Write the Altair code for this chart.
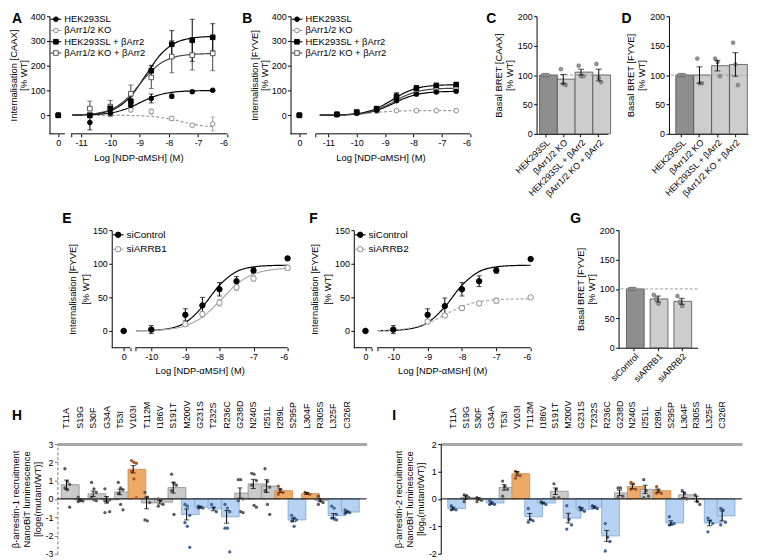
import altair as alt
import pandas as pd

FONT = "Liberation Sans"

# ===== Panels A and B: NDP-aMSH concentration-response (first value of each series = 0 M) =====
dose_AB = [-10.7, -10.0, -9.3, -8.6, -7.9, -7.2, -6.5]
names_AB = ["HEK293SL", "βArr1/2 KO", "HEK293SL + βArr2", "βArr1/2 KO + βArr2"]

A_hek = [0, -29, 8, 40, 68, 77, 95, 101]
A_hek_err = [0, 30, 10, 12, 18, 8, 5, 4]
A_ko = [0, 8, 5, 22, 15, -13, -40, -35]
A_ko_err = [0, 10, 10, 8, 10, 8, 6, 28]
A_hekb = [0, 0, 28, 57, 180, 287, 303, 315]
A_hekb_err = [0, 10, 15, 20, 22, 55, 85, 55]
A_kob = [0, 27, 35, 87, 153, 237, 243, 250]
A_kob_err = [0, 30, 25, 35, 45, 65, 60, 70]

B_hek = [0, 3, 8, 20, 59, 86, 94, 97]
B_hek_err = [0, 2, 3, 4, 6, 8, 6, 6]
B_ko = [0, 2, 8, 16, 19, 19, 19, 19]
B_ko_err = [0, 2, 2, 2, 2, 2, 2, 2]
B_hekb = [0, 4, 13, 27, 77, 110, 120, 124]
B_hekb_err = [0, 3, 4, 6, 14, 10, 10, 8]
B_kob = [0, 3, 10, 22, 65, 93, 106, 110]
B_kob_err = [0, 2, 3, 5, 10, 9, 8, 7]

# fitted curves
fit_x_AB = [-11.3, -10.8, -10.3, -9.8, -9.3, -8.8, -8.3, -7.8, -7.3, -6.8, -6.5]
A_hek_fit = [0.5, 1.6, 4.8, 13.7, 33.4, 61.3, 83.4, 94.0, 98.0, 99.4, 99.7]
A_ko_fit = [0, 0, -0.1, -0.3, -1.0, -3.0, -8.3, -19.0, -33.0, -43.0, -46.0]
A_hekb_fit = [1.0, 3.2, 9.8, 29.0, 77.0, 160.0, 243.0, 291.0, 310.0, 316.8, 318.4]
A_kob_fit = [1.2, 3.9, 12.0, 34.0, 83.5, 153.0, 208.5, 235.0, 245.0, 248.4, 249.2]
B_hek_fit = [0.24, 0.77, 2.4, 7.0, 19.4, 43.0, 69.3, 86.0, 93.3, 95.8, 96.4]
B_ko_fit = [0.3, 0.9, 2.6, 6.3, 11.6, 15.8, 18.0, 18.6, 18.9, 19.0, 19.0]
B_hekb_fit = [0.35, 1.1, 3.4, 10.2, 27.3, 58.5, 91.5, 111.5, 119.7, 122.6, 123.3]
B_kob_fit = [0.28, 0.87, 2.7, 8.0, 22.0, 48.8, 78.6, 97.6, 105.8, 108.6, 109.3]

# ===== Panels C, D, G: basal BRET =====
bars_CD = ["HEK293SL", "βArr1/2 KO", "HEK293SL + βArr2", "βArr1/2 KO + βArr2"]
C_mean = [100, 93, 105, 100]
C_sem = [0, 8, 5, 10]
C_pts = [[100, 100, 100], [110, 85, 83], [116, 98, 98], [119, 95, 88]]
D_mean = [100, 100, 116, 118]
D_sem = [0, 14, 9, 20]
D_pts = [[100, 100, 100], [128, 86, 86], [128, 122, 98], [155, 118, 83]]
bars_G = ["siControl", "siARRB1", "siARRB2"]
G_mean = [100, 83, 79]
G_sem = [0, 5, 5]
G_pts = [[100, 100, 100], [90, 83, 75], [88, 78, 71]]

# ===== Panels E and F: siRNA knock-down (first value = 0 M) =====
dose_EF = [-10.0, -9.0, -8.5, -8.0, -7.5, -7.0, -6.0]
E_ctrl = [0, 2, 24, 38, 62, 74, 90, 108]
E_ctrl_err = [0, 6, 9, 12, 10, 7, 4, 2]
E_b1 = [0, 2, 10, 25, 42, 65, 78, 94]
E_b1_err = [0, 3, 2, 4, 5, 5, 4, 4]
F_ctrl = [0, 2, 24, 37, 62, 74, 90, 107]
F_ctrl_err = [0, 6, 9, 12, 10, 8, 4, 2]
F_b2 = [0, 2, 14, 23, 34, 41, 45, 50]
F_b2_err = [0, 3, 3, 3, 3, 3, 4, 2]

fit_x_EF = [-10.45, -10.0, -9.5, -9.0, -8.5, -8.0, -7.5, -7.0, -6.5, -6.0]
E_ctrl_fit = [0.26, 0.9, 3.4, 12.4, 35.8, 68.0, 88.3, 95.3, 97.3, 97.8]
E_b1_fit = [0.3, 0.83, 2.6, 7.7, 20.7, 44.0, 69.4, 84.5, 90.8, 92.9]
F_ctrl_fit = [0.26, 0.9, 3.4, 12.4, 35.8, 68.0, 88.3, 95.3, 97.3, 97.8]
F_b2_fit = [0.54, 1.47, 4.4, 11.5, 24.0, 36.5, 43.6, 46.5, 47.5, 47.8]

# ===== Panels H and I: beta-arrestin recruitment by MC4R variants =====
mutants = ["T11A", "S19G", "S30F", "G34A", "T53I", "V103I", "T112M", "I186V", "S191T",
           "M200V", "G231S", "T232S", "R236C", "G238D", "N240S", "I251L", "I289L",
           "S295P", "L304F", "R305S", "L325F", "C326R"]
H_group = ["n", "n", "n", "n", "n", "gain", "n", "n", "n", "loss", "loss", "loss", "loss",
           "n", "n", "n", "gain", "loss", "gain", "n", "loss", "loss"]
H_mean = [0.78, -0.05, 0.28, -0.05, 0.38, 1.62, -0.22, -0.18, 0.62, -0.85, -0.45, -0.55,
          -0.98, 0.32, 0.82, 0.70, 0.45, -1.15, 0.30, -0.08, -0.92, -0.72]
H_sem = [0.25, 0.05, 0.15, 0.18, 0.15, 0.20, 0.32, 0.10, 0.30, 0.30, 0.05, 0.10, 0.35,
         0.28, 0.25, 0.35, 0.10, 0.10, 0.05, 0.08, 0.12, 0.05]
H_pts = [[1.65, 0.95, 0.8, 0.6, 0.5, -0.45], [0.1, -0.1, -0.12, -0.15],
         [0.9, 0.55, 0.35, 0.1, -0.05, -0.1], [0.55, 0.0, -0.05, -0.1, -0.15, -0.7, -0.75],
         [0.9, 0.6, 0.5, 0.3, -0.3, -0.6], [2.1, 2.0, 1.95, 1.5, 1.1, 0.05],
         [0.35, 0.1, -0.2, -1.15, -1.2], [0.0, -0.1, -0.3, -0.4],
         [1.35, 0.85, 0.75, 0.45, -0.85], [-0.3, -0.4, -0.9, -1.3, -1.5, -2.65],
         [-0.4, -0.45, -0.5, -0.5], [-0.3, -0.5, -0.7],
         [-0.3, -0.5, -0.7, -1.6, -1.6, -2.9], [1.05, 1.05, 0.0, -0.1, -0.7, -0.75],
         [1.4, 1.35, 1.0, 0.75, -0.35, -0.45], [1.65, 0.95, 0.65, 0.45, -0.3, -0.85],
         [0.7, 0.5, 0.35, 0.25], [-0.9, -1.05, -1.15, -1.2, -1.5], [0.35, 0.3, 0.25],
         [0.15, -0.1, -0.2, -0.3], [-0.4, -0.5, -0.85, -1.05, -1.1, -1.15],
         [-0.6, -0.7, -0.75, -0.8]]
I_group = ["loss", "n", "n", "loss", "n", "gain", "loss", "loss", "n", "loss", "loss", "loss",
           "loss", "n", "gain", "n", "gain", "loss", "n", "n", "loss", "loss"]
I_mean = [-0.35, 0.05, 0.0, -0.15, 0.42, 0.92, -0.65, -0.15, 0.28, -0.70, -0.38, -0.30,
          -1.35, 0.22, 0.45, 0.35, 0.30, -0.88, 0.15, 0.0, -0.88, -0.62]
I_sem = [0.05, 0.06, 0.04, 0.04, 0.10, 0.08, 0.12, 0.03, 0.12, 0.18, 0.05, 0.04, 0.20,
         0.10, 0.08, 0.15, 0.06, 0.08, 0.10, 0.10, 0.10, 0.18]
I_pts = [[-0.25, -0.35, -0.4, -0.4], [0.15, 0.12, 0.05, -0.1], [0.05, 0.0, -0.05, -0.1],
         [-0.05, -0.15, -0.2, -0.2], [0.65, 0.45, 0.35, 0.1], [1.0, 0.95, 0.85, 0.75],
         [-0.35, -0.75, -0.8, -0.85], [-0.1, -0.15, -0.2], [0.55, 0.35, 0.05, 0.05],
         [-0.25, -0.75, -0.95, -1.1], [-0.3, -0.35, -0.45], [-0.25, -0.3, -0.35],
         [-0.9, -1.4, -1.55, -1.9], [0.4, 0.4, 0.1, 0.05], [0.6, 0.55, 0.35, 0.35],
         [0.7, 0.3, 0.1, 0.05], [0.45, 0.3, 0.2, 0.2], [-0.65, -0.9, -0.9, -0.95],
         [0.3, 0.2, 0.0], [0.15, -0.1, -0.2], [-0.7, -0.8, -0.9, -1.2],
         [-0.35, -0.4, -0.85, -0.95]]

LABEL_FS = 9
TITLE_FS = 9.5
CH = ["fill", "stroke", "shape", "color", "strokeDash"]


def indep(c):
    kw = {k: "independent" for k in CH}
    return c.resolve_scale(**kw).resolve_legend(**kw)


def letter_layer(letter, lx, ly, base="alphabetic"):
    return alt.Chart(pd.DataFrame({"t": [letter]})).mark_text(
        font=FONT, fontSize=14, fontWeight="bold", align="left", baseline=base,
        color="black").encode(text="t:N", x=alt.value(lx), y=alt.value(ly))


def legend_layers(series, y0, dy, fs, psize):
    """Prism-style key: short line through the marker, then the label."""
    out = []
    for i, s in enumerate(series):
        yy = y0 + i * dy
        one = pd.DataFrame({"t": [s["name"]]})
        out.append(alt.Chart(one).mark_rule(color=s["line"], strokeWidth=1.1).encode(
            x=alt.value(1), x2=alt.value(12), y=alt.value(yy)))
        out.append(alt.Chart(one).mark_point(filled=True, opacity=1, size=psize, shape=s["shape"],
                                             fill=s["fill"], stroke=s["stroke"], strokeWidth=1).encode(
            x=alt.value(6.5), y=alt.value(yy)))
        out.append(alt.Chart(one).mark_text(font=FONT, fontSize=fs, align="left", baseline="middle",
                                            color="black").encode(
            text="t:N", x=alt.value(15), y=alt.value(yy)))
    return out


def dose_panel(letter, lpos, geom, series, fit_x, ytitle, yticks, xticks, leg, title_lh, psize):
    xmin, zero, seg1, seg2, xmax, ymin, ymax, W, Hh, brk = geom
    xs = alt.Scale(domain=[xmin, xmax], nice=False, zero=False)
    ys = alt.Scale(domain=[ymin, ymax], nice=False, zero=False)
    lbl = ("abs(datum.value - (%s)) < 0.001 ? '0' : "
           "(datum.value == round(datum.value) ? '' + datum.value : '')" % zero)
    xax = alt.Axis(values=[zero] + brk + xticks, labelExpr=lbl, domain=False,
                   title="Log [NDP-αMSH] (M)", tickSize=3, labelPadding=1.5, titlePadding=5)
    yax = alt.Axis(values=yticks, title=ytitle, tickSize=3, labelPadding=1.5, titlePadding=2,
                   labelExpr="'' + datum.value", titleLineHeight=title_lh)

    def X(f):
        return alt.X(f, type="quantitative", scale=xs, axis=xax)

    def Y(f):
        return alt.Y(f, type="quantitative", scale=ys, axis=yax)

    names = [s["name"] for s in series]
    rows, crows = [], []
    for s in series:
        for i, v in enumerate(s["vals"]):
            x = zero if i == 0 else s["dose"][i - 1]
            e = s["err"][i]
            rows.append(dict(x=x, y=v, lo=v - e, hi=v + e, e=e, series=s["name"], o=s["order"]))
        for cx, cy in zip(fit_x, s["fit"]):
            crows.append(dict(cx=cx, cy=cy, series=s["name"]))
    df = pd.DataFrame(rows).sort_values("o", kind="stable")
    edf = df[df["e"] > 0]
    cdf = pd.DataFrame(crows)

    ccol = alt.Color("series:N", scale=alt.Scale(domain=names, range=[s["line"] for s in series]),
                     legend=None)
    err = alt.Chart(edf).mark_rule(strokeWidth=1).encode(
        x=X("x"), y=Y("lo"), y2=alt.Y2("hi"), color=ccol)
    caps = alt.Chart(edf).transform_fold(["lo", "hi"], as_=["k", "v"]).mark_tick(
        orient="horizontal", size=5, thickness=1).encode(x=X("x"), y=Y("v"), color=ccol)
    curves = alt.Chart(cdf).mark_line(interpolate="monotone", strokeWidth=1.2).encode(
        x=X("cx"), y=Y("cy"), color=ccol,
        strokeDash=alt.StrokeDash("series:N", scale=alt.Scale(
            domain=names, range=[s["dash"] for s in series]), legend=None))
    pts = alt.Chart(df).mark_point(filled=True, opacity=1, size=psize, strokeWidth=1).encode(
        x=X("x"), y=Y("y"),
        shape=alt.Shape("series:N", scale=alt.Scale(domain=names, range=[s["shape"] for s in series]),
                        legend=None),
        fill=alt.Fill("series:N", scale=alt.Scale(domain=names, range=[s["fill"] for s in series]),
                      legend=None),
        stroke=alt.Stroke("series:N", scale=alt.Scale(domain=names, range=[s["stroke"] for s in series]),
                          legend=None))
    segdf = pd.DataFrame({"a": [xmin, seg2], "b": [seg1, xmax]})
    segs = alt.Chart(segdf).mark_rule(color="black", strokeWidth=1).encode(
        x=X("a"), x2=alt.X2("b"), y=alt.YDatum(ymin, type="quantitative", scale=ys, axis=yax))
    keys = legend_layers(series, leg[0], leg[1], leg[2], psize)
    return alt.layer(err, caps, curves, pts, segs, *keys, letter_layer(letter, *lpos)).properties(
        width=W, height=Hh)


def bar_panel(letter, lpos, labels, means, sems, pts, ytitle, W, Hh, pi, po):
    xs = alt.Scale(domain=labels, paddingInner=pi, paddingOuter=po)
    ys = alt.Scale(domain=[0, 200], nice=False)
    xax = alt.Axis(title=None, labelAngle=-45, labelAlign="right", labelBaseline="top",
                   tickSize=3, labelPadding=1)
    yax = alt.Axis(values=[0, 50, 100, 150, 200], title=ytitle, tickSize=3, labelPadding=1.5,
                   titlePadding=3, titleLineHeight=11)

    def X(f):
        return alt.X(f, type="nominal", scale=xs, axis=xax, sort=labels)

    def Y(f):
        return alt.Y(f, type="quantitative", scale=ys, axis=yax)

    df = pd.DataFrame({"cat": labels, "m": means,
                       "lo": [m - s for m, s in zip(means, sems)],
                       "hi": [m + s for m, s in zip(means, sems)],
                       "s": sems,
                       "shade": ["ctrl"] + ["other"] * (len(labels) - 1)})
    edf = df[df["s"] > 0]
    prow = []
    for c, vals in zip(labels, pts):
        for k, v in enumerate(vals):
            prow.append(dict(cat=c, v=v, j=k - (len(vals) - 1) / 2))
    pdf = pd.DataFrame(prow)

    bars = alt.Chart(df).mark_bar(stroke="#4d4d4d", strokeWidth=0.8).encode(
        x=X("cat"), y=Y("m"),
        fill=alt.Fill("shade:N", scale=alt.Scale(domain=["ctrl", "other"],
                                                 range=["#8e8e8e", "#cdcdcd"]), legend=None))
    ref = alt.Chart(pd.DataFrame({"r": [0]})).mark_rule(
        color="#9a9a9a", strokeDash=[3, 2], strokeWidth=1).encode(
        y=alt.YDatum(100, type="quantitative", scale=ys, axis=yax))
    dots = alt.Chart(pdf).mark_point(filled=True, size=14, opacity=1, fill="#9a9a9a",
                                     stroke="#555555", strokeWidth=0.6).encode(
        x=X("cat"), y=Y("v"),
        xOffset=alt.XOffset("j:Q", scale=alt.Scale(domain=[-1.7, 1.7])))
    err = alt.Chart(edf).mark_rule(color="black", strokeWidth=1).encode(
        x=X("cat"), y=Y("lo"), y2=alt.Y2("hi"))
    caps = alt.Chart(edf).transform_fold(["lo", "hi"], as_=["k", "v"]).mark_tick(
        orient="horizontal", size=6, thickness=1, color="black").encode(x=X("cat"), y=Y("v"))
    return alt.layer(bars, ref, dots, err, caps, letter_layer(letter, *lpos)).properties(
        width=W, height=Hh)


def mut_panel(letter, lpos, groups, means, sems, pts, ymin, ymax, yticks, ytitle, W, Hh, po,
              align, dashed):
    xs = alt.Scale(domain=mutants, paddingInner=0.22, paddingOuter=po, align=align)
    ys = alt.Scale(domain=[ymin, ymax], nice=False)
    xax = alt.Axis(orient="top", title=None, labelAngle=-90, labelAlign="left",
                   labelBaseline="middle", ticks=False, labelPadding=16, domainWidth=3,
                   domainColor="#a8a8a8", labelFontSize=9)
    if dashed:
        yax = alt.Axis(values=yticks, title=ytitle, tickSize=3, labelPadding=1.5, titlePadding=3,
                       labelExpr="'' + datum.value", titleLineHeight=11, domainDash=[3, 2],
                       domainColor="#777777", tickColor="#777777")
    else:
        yax = alt.Axis(values=yticks, title=ytitle, tickSize=3, labelPadding=1.5, titlePadding=3,
                       labelExpr="'' + datum.value", titleLineHeight=11)

    def X(f):
        return alt.X(f, type="nominal", scale=xs, axis=xax, sort=mutants)

    def Y(f):
        return alt.Y(f, type="quantitative", scale=ys, axis=yax)

    df = pd.DataFrame({"cat": mutants, "m": means, "g": groups,
                       "lo": [m - s for m, s in zip(means, sems)],
                       "hi": [m + s for m, s in zip(means, sems)]})
    prow = []
    for c, g, vals in zip(mutants, groups, pts):
        for k, v in enumerate(vals):
            prow.append(dict(cat=c, v=v, g=g, j=(k % 3) - 1))
    pdf = pd.DataFrame(prow)
    gdom = ["n", "gain", "loss"]
    bars = alt.Chart(df).mark_bar(strokeWidth=0.8).encode(
        x=X("cat"), y=Y("m"), y2=alt.Y2Datum(0),
        fill=alt.Fill("g:N", scale=alt.Scale(domain=gdom, range=["#cacaca", "#eeaa68", "#b5d2f2"]),
                      legend=None),
        stroke=alt.Stroke("g:N", scale=alt.Scale(domain=gdom, range=["#8c8c8c", "#c98a4e", "#7ea5d3"]),
                          legend=None))
    zero = alt.Chart(pd.DataFrame({"r": [0]})).mark_rule(color="black", strokeWidth=1).encode(
        y=alt.YDatum(0, type="quantitative", scale=ys, axis=yax))
    dots = alt.Chart(pdf).mark_circle(size=11, opacity=1).encode(
        x=X("cat"), y=Y("v"),
        xOffset=alt.XOffset("j:Q", scale=alt.Scale(domain=[-2.5, 2.5])),
        color=alt.Color("g:N", scale=alt.Scale(domain=gdom, range=["#595959", "#a5582a", "#3e6597"]),
                        legend=None))
    err = alt.Chart(df).mark_rule(color="black", strokeWidth=1).encode(
        x=X("cat"), y=Y("lo"), y2=alt.Y2("hi"))
    caps = alt.Chart(df).transform_fold(["lo", "hi"], as_=["k", "v"]).mark_tick(
        orient="horizontal", size=5, thickness=1, color="black").encode(x=X("cat"), y=Y("v"))
    return alt.layer(bars, zero, dots, err, caps, letter_layer(letter, *lpos)).properties(
        width=W, height=Hh)


def spacer(w, h):
    return alt.Chart(pd.DataFrame({"v": [0]})).mark_point(opacity=0).encode(
        x=alt.value(0), y=alt.value(0)).properties(width=w, height=h)


def ser(name, vals, err, fit, dose, shape, fill, stroke, line, dash, order):
    return dict(name=name, vals=vals, err=err, fit=fit, dose=dose, shape=shape, fill=fill,
                stroke=stroke, line=line, dash=dash, order=order)


SOLID = [1, 0]
DASH = [3, 2]

A_series = [
    ser(names_AB[0], A_hek, A_hek_err, A_hek_fit, dose_AB, "circle", "black", "black", "black", SOLID, 2),
    ser(names_AB[1], A_ko, A_ko_err, A_ko_fit, dose_AB, "circle", "white", "#8c8c8c", "#9a9a9a", DASH, 1),
    ser(names_AB[2], A_hekb, A_hekb_err, A_hekb_fit, dose_AB, "square", "black", "black", "black", SOLID, 3),
    ser(names_AB[3], A_kob, A_kob_err, A_kob_fit, dose_AB, "square", "white", "#555555", "#444444", SOLID, 0),
]
B_series = [
    ser(names_AB[0], B_hek, B_hek_err, B_hek_fit, dose_AB, "circle", "black", "black", "black", SOLID, 2),
    ser(names_AB[1], B_ko, B_ko_err, B_ko_fit, dose_AB, "circle", "white", "#8c8c8c", "#9a9a9a", DASH, 1),
    ser(names_AB[2], B_hekb, B_hekb_err, B_hekb_fit, dose_AB, "square", "black", "black", "black", SOLID, 3),
    ser(names_AB[3], B_kob, B_kob_err, B_kob_fit, dose_AB, "square", "white", "#555555", "#444444", SOLID, 0),
]
E_series = [
    ser("siControl", E_ctrl, E_ctrl_err, E_ctrl_fit, dose_EF, "circle", "black", "black", "black", SOLID, 1),
    ser("siARRB1", E_b1, E_b1_err, E_b1_fit, dose_EF, "circle", "white", "#8c8c8c", "#a8a8a8", SOLID, 0),
]
F_series = [
    ser("siControl", F_ctrl, F_ctrl_err, F_ctrl_fit, dose_EF, "circle", "black", "black", "black", SOLID, 1),
    ser("siARRB2", F_b2, F_b2_err, F_b2_fit, dose_EF, "circle", "white", "#8c8c8c", "#a8a8a8", DASH, 0),
]

ttl_int_caax = ["Internalisation [CAAX]", "[% WT]"]
ttl_int_fyve = ["Internalisation [FYVE]", "[% WT]"]
R1, R2, R3 = 119, 119, 111
TOP = "top"

pA = dose_panel("A", (-38, -4.5, TOP), (-12.08, -11.78, -11.55, -11.35, -6, -75, 400, 180, R1, [-11.35]),
                A_series, fit_x_AB, ttl_int_caax, [0, 100, 200, 300, 400],
                [-11, -10, -9, -8, -7, -6], (3, 11.4, 9.5), 10, 22)
pB = dose_panel("B", (-49, -4.5, TOP), (-12.33, -12.02, -11.75, -11.45, -6, -75, 400, 182, R1, [-11.45]),
                B_series, fit_x_AB, ttl_int_fyve, [0, 100, 200, 300, 400],
                [-11, -10, -9, -8, -7, -6], (3, 11.4, 9.5), 10, 22)
pC = bar_panel("C", (-51, -4.5, TOP), bars_CD, C_mean, C_sem, C_pts, ["Basal BRET [CAAX]", "[% WT]"],
               72, R1, 0.33, 0.17)
pD = bar_panel("D", (-48, -4.5, TOP), bars_CD, D_mean, D_sem, D_pts, ["Basal BRET [FYVE]", "[% WT]"],
               80, R1, 0.35, 0.38)
pE = dose_panel("E", (-50, -7), (-11.16, -10.81, -10.62, -10.47, -6, -25, 150, 178, R2,
                                 [-10.62, -10.47]),
                E_series, fit_x_EF, ttl_int_fyve, [0, 50, 100, 150], [-10, -9, -8, -7, -6],
                (4.7, 14.6, 10), 13, 30)
pF = dose_panel("F", (-45, -7), (-11.15, -10.81, -10.62, -10.47, -6, -25, 150, 179, R2,
                                 [-10.62, -10.47]),
                F_series, fit_x_EF, ttl_int_fyve, [0, 50, 100, 150], [-10, -9, -8, -7, -6],
                (4.7, 14.6, 10), 13, 30)
pG = bar_panel("G", (-49, -7), bars_G, G_mean, G_sem, G_pts, ["Basal BRET [FYVE]", "[% WT]"],
               80, R2, 0.33, 0.33)
pH = mut_panel("H", (-46, -24), H_group, H_mean, H_sem, H_pts, -3, 3, [-3, -2, -1, 0, 1, 2, 3],
               ["β-arrestin-1 recruitment", "NanoBiT luminescence", "[loge(mutant/WT)]"],
               313, R3, 0.70, 0.21, True)
pI = mut_panel("I", (-49, -24), I_group, I_mean, I_sem, I_pts, -2, 2, [-2, -1, 0, 1, 2],
               ["β-arrestin-2 recruitment", "NanoBiT luminescence", "[logₑ(mutant/WT)]"],
               305, R3, 0.855, 0.32, False)

row1 = indep(alt.hconcat(pA, spacer(64, R1), pB, spacer(67, R1), pC, spacer(62, R1), pD,
                         spacing=0, bounds="flush"))
row2 = indep(alt.hconcat(spacer(63, R2), pE, spacer(67, R2), pF, spacer(89, R2), pG,
                         spacing=0, bounds="flush"))
row3 = indep(alt.hconcat(spacer(8, R3), pH, spacer(75, R3), pI, spacing=0, bounds="flush"))

# nested rows report no height in a flush layout, so the spacing is the row-top to row-top step
chart = indep(alt.vconcat(row1, row2, row3, spacing=216.5, bounds="flush")).properties(
    padding=0
).configure(font=FONT).configure_view(strokeWidth=0).configure_axis(
    labelFont=FONT, titleFont=FONT, labelFontSize=LABEL_FS, titleFontSize=TITLE_FS,
    titleFontWeight="normal", labelColor="black", titleColor="black", domainColor="black",
    tickColor="black", grid=False, domainWidth=1, tickWidth=1
)

chart.save("out.html", embed_options={"renderer": "svg", "actions": False})
